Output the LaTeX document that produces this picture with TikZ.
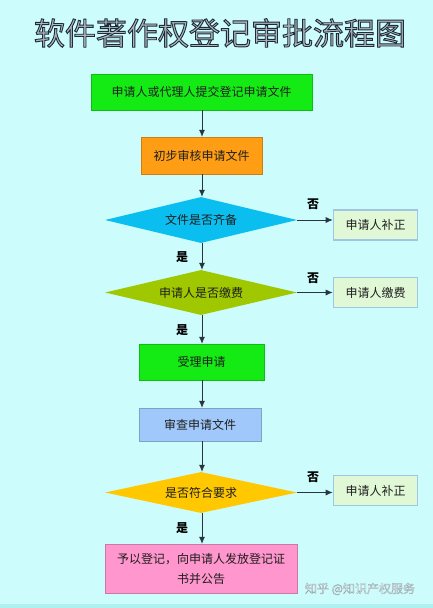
\documentclass[tikz,border=0pt]{standalone}
\usepackage{fontspec}
\setmainfont{Noto Sans CJK SC}
\usetikzlibrary{shapes.geometric,arrows.meta}
\definecolor{bgc}{RGB}{204,252,252}
\definecolor{stripc}{RGB}{175,240,240}
\definecolor{greenc}{RGB}{20,235,20}
\definecolor{orangec}{RGB}{255,158,20}
\definecolor{cyanc}{RGB}{10,190,240}
\definecolor{olivec}{RGB}{160,200,0}
\definecolor{bluec}{RGB}{160,200,250}
\definecolor{goldc}{RGB}{255,200,0}
\definecolor{pinkc}{RGB}{255,150,205}
\definecolor{sidefill}{RGB}{225,248,215}
\definecolor{sideline}{RGB}{160,198,230}
\definecolor{arrowc}{RGB}{40,52,62}
\definecolor{titlefill}{RGB}{172,184,190}
\definecolor{textc}{RGB}{30,30,30}
\definecolor{wmc}{RGB}{240,248,248}
\tikzset{
  x=1pt, y=-1pt,
  every node/.style={font=\fontsize{12}{15}\selectfont, text=textc},
  procbox/.style={rectangle, inner sep=0pt, draw=#1!80!black, line width=0.4pt, fill=#1},
  decision/.style={diamond, shape aspect=4.2, inner sep=0pt, fill=#1, draw=none},
  sidebox/.style={rectangle, inner sep=0pt, fill=sidefill, draw=sideline, line width=1.6pt,
    minimum width=84pt, minimum height=30pt},
  flow/.style={draw=arrowc, line width=0.8pt, -{Latex[length=7pt,width=6pt]}},
  yn/.style={font=\fontsize{12}{14}\selectfont\bfseries, text=black}
}
\begin{document}
\begin{tikzpicture}
\useasboundingbox (0,0) rectangle (433,608);
\fill[bgc] (0,0) rectangle (433,608);
\fill[stripc] (0,604) rectangle (433,608);

% title
\node[font=\fontsize{31}{34}\selectfont, text=titlefill] (title) at (220,33)
  {\special{pdf:literal direct 0.9 w 0.12 0.17 0.21 RG 2 Tr}软件著作权登记审批流程图\special{pdf:literal direct 0 Tr}};

% main column
\node[procbox=greenc, minimum width=221pt, minimum height=36pt] (b1) at (201.5,92) {申请人或代理人提交登记申请文件};
\node[procbox=orangec, minimum width=121pt, minimum height=37pt] (b2) at (201.5,155.5) {初步审核申请文件};
\node[decision=cyanc, minimum width=192pt, minimum height=46pt] (d1) at (201,220) {文件是否齐备};
\node[decision=olivec, minimum width=192pt, minimum height=45pt] (d2) at (201,292.5) {申请人是否缴费};
\node[procbox=greenc, minimum width=125pt, minimum height=36pt] (b3) at (201.5,362) {受理申请};
\node[procbox=bluec, minimum width=122pt, minimum height=33pt] (b4) at (200,424.5) {审查申请文件};
\node[decision=goldc, minimum width=192pt, minimum height=41pt] (d3) at (201,492.5) {是否符合要求};
\node[procbox=pinkc, minimum width=192pt, minimum height=49pt, align=center,
  font=\fontsize{12}{20}\selectfont] (b5) at (201,568.5)
  {予以登记，向申请人发放登记证\\书并公告};

% side boxes
\node[sidebox] (s1) at (375.5,225) {申请人补正};
\node[sidebox] (s2) at (375.5,292.5) {申请人缴费};
\node[sidebox] (s3) at (375.5,490.5) {申请人补正};

% vertical flow
\draw[flow] (b1.south -| 202,0) -- (b2.north -| 202,0);
\draw[flow] (b2.south -| 202,0) -- (d1.north -| 202,0);
\draw[flow] (d1.south -| 202,0) -- (d2.north -| 202,0);
\draw[flow] (d2.south -| 202,0) -- (b3.north -| 202,0);
\draw[flow] (b3.south -| 202,0) -- (b4.north -| 202,0);
\draw[flow] (b4.south -| 202,0) -- (d3.north -| 202,0);
\draw[flow] (d3.south -| 202,0) -- (b5.north -| 202,0);

% horizontal flow
\draw[flow] (d1.east) -- (d1.east -| s1.west);
\draw[flow] (d2.east) -- (d2.east -| s2.west);
\draw[flow] (d3.east) -- (d3.east -| s3.west);

% labels
\node[yn] (n1) at (313,204) {否};
\node[yn] (n2) at (313,278) {否};
\node[yn] (n3) at (313,477) {否};
\node[yn] (y1) at (182,257) {是};
\node[yn] (y2) at (182,330) {是};
\node[yn] (y3) at (182,528) {是};

% watermark
\node[text=wmc, font=\fontsize{12}{14}\selectfont] (wm) at (360,589)
  {\special{pdf:literal direct 0.35 w 0.62 0.68 0.70 RG 2 Tr}知乎 @知识产权服务\special{pdf:literal direct 0 Tr}};
\end{tikzpicture}
\end{document}
